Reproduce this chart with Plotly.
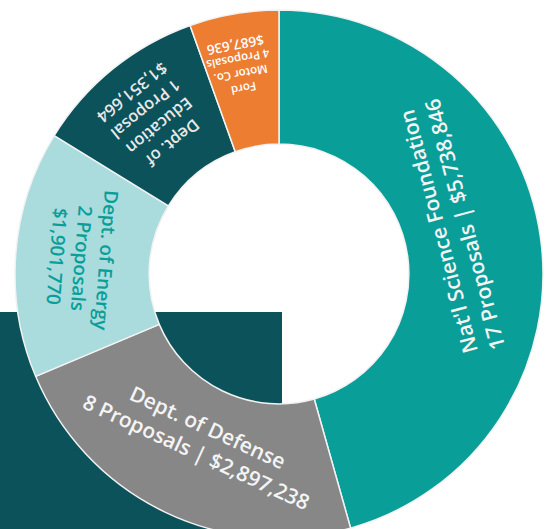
import math
import plotly.graph_objects as go

# ---- data ----
agencies = ["Nat'l Science Foundation", "Dept. of Defense", "Dept. of Energy",
            "Dept. of Education", "Ford Motor Co."]
agency_lines = ["Nat'l Science Foundation", "Dept. of Defense", "Dept. of Energy",
                "Dept. of<br>Education", "Ford<br>Motor Co."]
proposals = [17, 8, 2, 1, 4]
amounts = [5738846, 2897238, 1901770, 1351664, 687636]

# ---- style ----
W, H = 552, 548
colors = ["#0A9E99", "#878787", "#AADBDD", "#0C525A", "#ED7D31"]
text_colors = ["#F4F4F4", "#F4F4F4", "#0A9E99", "#E8E8E8", "#FFFFFF"]
font_sizes = [21, 21, 19, 16.5, 11.5]
amount_sizes = [21, 21, 19, 16.5, 13.5]
separators = [" | ", " | ", "<br>", "<br>", "<br>"]
label_radius = [178, 182, 198, 201, 212]   # px from centre
angle_nudge = [-7, -1, 0, 0, -1]           # degrees
hole = 0.492
dom_x = [15 / W, 543 / W]
dom_y = [0, 1]

cx = W * (dom_x[0] + dom_x[1]) / 2
cy = H * (1 - (dom_y[0] + dom_y[1]) / 2)

fig = go.Figure()
fig.add_trace(go.Pie(
    labels=agencies,
    values=amounts,
    sort=False,
    direction="clockwise",
    rotation=0,
    hole=hole,
    textinfo="none",
    hoverinfo="label+value",
    marker=dict(colors=colors, line=dict(color="#F2F2F2", width=1.5)),
    domain=dict(x=dom_x, y=dom_y),
    showlegend=False,
))

total = sum(amounts)
cum = 0
for i, amt in enumerate(amounts):
    mid = (cum + amt / 2) / total * 360 + angle_nudge[i]
    cum += amt
    rad = math.radians(mid)
    px = cx + label_radius[i] * math.sin(rad)
    py = cy - label_radius[i] * math.cos(rad)
    ang = mid - 180
    if ang <= -180:
        ang += 360
    word = "Proposal" if proposals[i] == 1 else "Proposals"
    amt_txt = f"${amt:,}"
    if amount_sizes[i] != font_sizes[i]:
        amt_txt = f"<span style='font-size:{amount_sizes[i]}px'>{amt_txt}</span>"
    txt = f"{agency_lines[i]}<br>{proposals[i]} {word}{separators[i]}{amt_txt}"
    fig.add_annotation(
        x=px / W, y=1 - py / H, xref="paper", yref="paper",
        text=txt, showarrow=False, textangle=ang,
        xanchor="center", yanchor="middle", align="center",
        font=dict(family="Open Sans", size=font_sizes[i], color=text_colors[i], weight=600),
    )

fig.add_shape(type="rect", xref="paper", yref="paper",
              x0=0, x1=282 / W, y0=0, y1=1 - 312 / H,
              fillcolor="#0C525A", line=dict(width=0), layer="below")

fig.update_layout(
    width=W, height=H,
    margin=dict(l=0, r=0, t=0, b=0),
    paper_bgcolor="white", plot_bgcolor="white",
)

fig.write_html(
    "out.html",
    config={"displayModeBar": False},
    post_script="document.body.style.margin='0';document.body.style.overflow='hidden';",
)
